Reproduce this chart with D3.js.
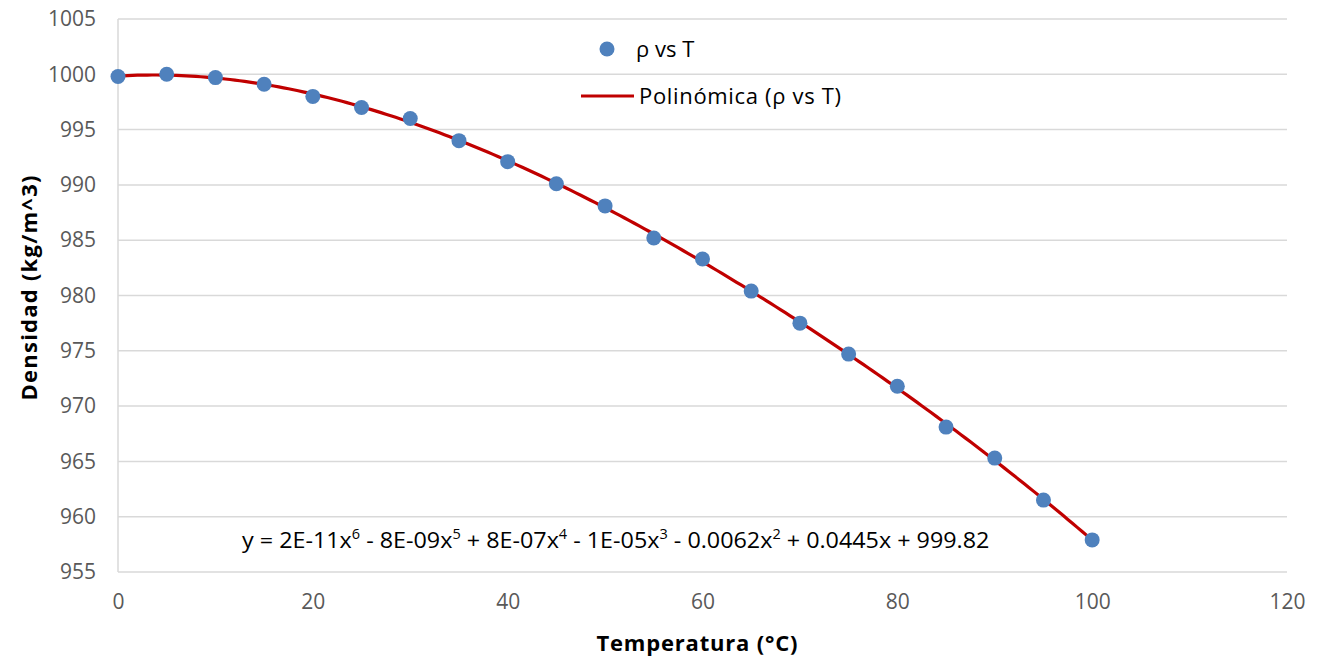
<!DOCTYPE html>
<html><head><meta charset="utf-8">
<script src="https://cdn.jsdelivr.net/npm/d3@7"></script>
<style>body{margin:0;background:#fff;} svg{display:block;font-family:"Open Sans","Liberation Sans",sans-serif;}</style>
</head><body><svg id="c" width="1326" height="660"></svg>
<script>
const temps = [0,5,10,15,20,25,30,35,40,45,50,55,60,65,70,75,80,85,90,95,100];
const dens = [999.8,1000.0,999.7,999.1,998.0,997.0,996.0,994.0,992.1,990.1,988.1,985.2,983.3,980.4,977.5,974.7,971.8,968.1,965.3,961.5,957.9];
const xTicks = [0,20,40,60,80,100,120];
const yTicks = [955,960,965,970,975,980,985,990,995,1000,1005];
const seriesName = "ρ vs T";
const trendName = "Polinómica (ρ vs T)";
const eqParts = [["y = 2E-11x",""],["6","sup"],[" - 8E-09x",""],["5","sup"],[" + 8E-07x",""],["4","sup"],[" - 1E-05x",""],["3","sup"],[" - 0.0062x",""],["2","sup"],[" + 0.0445x + 999.82",""]];

const svg = d3.select("#c");
const L=118,R=1287,T=19,B=572;
const x = d3.scaleLinear().domain([0,120]).range([L,R]);
const y = d3.scaleLinear().domain([955,1005]).range([B,T]);

// grid
svg.append("g").selectAll("line").data(yTicks).join("line")
  .attr("x1",L).attr("x2",R).attr("y1",d=>y(d)).attr("y2",d=>y(d))
  .attr("stroke","#d9d9d9").attr("stroke-width",1.5);
svg.append("line").attr("x1",L).attr("x2",L).attr("y1",T).attr("y2",B).attr("stroke","#d9d9d9").attr("stroke-width",1.5);

const yAx = svg.append("g").attr("transform",`translate(${L},0)`).call(d3.axisLeft(y).tickValues(yTicks).tickSize(0).tickPadding(22).tickFormat(d3.format("d")));
yAx.select(".domain").remove();
yAx.selectAll("text").attr("font-size",21).attr("fill","#595959").attr("font-family","'Open Sans',sans-serif");
const xAx = svg.append("g").attr("transform",`translate(0,${B})`).call(d3.axisBottom(x).tickValues(xTicks).tickSize(0).tickPadding(22).tickFormat(d3.format("d")));
xAx.select(".domain").remove();
xAx.selectAll("text").attr("font-size",21).attr("fill","#595959").attr("font-family","'Open Sans',sans-serif");

// polynomial least squares fit degree 6 (normalized x)
function polyfit(xs, ys, deg){
  const n=deg+1, A=[...Array(n)].map(()=>Array(n+1).fill(0));
  xs.forEach((xv,k)=>{const t=xv/100;for(let i=0;i<n;i++){for(let j=0;j<n;j++)A[i][j]+=Math.pow(t,i+j);A[i][n]+=Math.pow(t,i)*ys[k];}});
  for(let c=0;c<n;c++){let p=c;for(let r=c+1;r<n;r++)if(Math.abs(A[r][c])>Math.abs(A[p][c]))p=r;[A[c],A[p]]=[A[p],A[c]];
    for(let r=0;r<n;r++){if(r===c)continue;const f=A[r][c]/A[c][c];for(let k=c;k<=n;k++)A[r][k]-=f*A[c][k];}}
  const co=A.map((row,i)=>row[n]/row[i]);
  return xv=>{const t=xv/100;return co.reduce((s,c,i)=>s+c*Math.pow(t,i),0);};
}
const f = polyfit(temps,dens,6);
const fit = d3.range(0,100.01,0.5).map(t=>[t,f(t)]);
svg.append("path").datum(fit).attr("fill","none").attr("stroke","#c00000").attr("stroke-width",3.2)
  .attr("d",d3.line().x(d=>x(d[0])).y(d=>y(d[1])));

svg.append("g").selectAll("circle").data(temps.map((t,i)=>[t,dens[i]])).join("circle")
  .attr("cx",d=>x(d[0])).attr("cy",d=>y(d[1])).attr("r",7.5).attr("fill","#4f81bd");

// legend
svg.append("circle").attr("cx",607).attr("cy",49).attr("r",7.5).attr("fill","#4f81bd");
svg.append("text").attr("x",636).attr("y",57).attr("font-size",22).attr("fill","#000").text(seriesName);
svg.append("line").attr("x1",581).attr("x2",634).attr("y1",96).attr("y2",96).attr("stroke","#c00000").attr("stroke-width",3.2);
svg.append("text").attr("x",639).attr("y",104).attr("font-size",22).attr("fill","#000").attr("textLength",202).text(trendName);

// equation
const eq = svg.append("text").attr("x",242).attr("y",548).attr("font-size",22.5).attr("fill","#000");
eqParts.forEach(([s,k])=>{
  const ts=eq.append("tspan").text(s);
  if(k==="sup") ts.attr("font-size",14).attr("dy",-9);
  else ts.attr("dy", eq.selectAll("tspan").size()>1?9:0);
});
const w = eq.node().getComputedTextLength();
if (w>0) eq.attr("transform",`translate(242,0) scale(${748/w},1) translate(-242,0)`);

// axis titles
svg.append("text").attr("x",697).attr("y",651).attr("text-anchor","middle").attr("font-size",22).attr("font-weight","bold").attr("fill","#000").attr("textLength",201).text("Temperatura (°C)");
svg.append("text").attr("transform","translate(37,288) rotate(-90)").attr("text-anchor","middle").attr("font-size",22).attr("font-weight","bold").attr("fill","#000").attr("textLength",225).text("Densidad (kg/m^3)");
</script></body></html>
